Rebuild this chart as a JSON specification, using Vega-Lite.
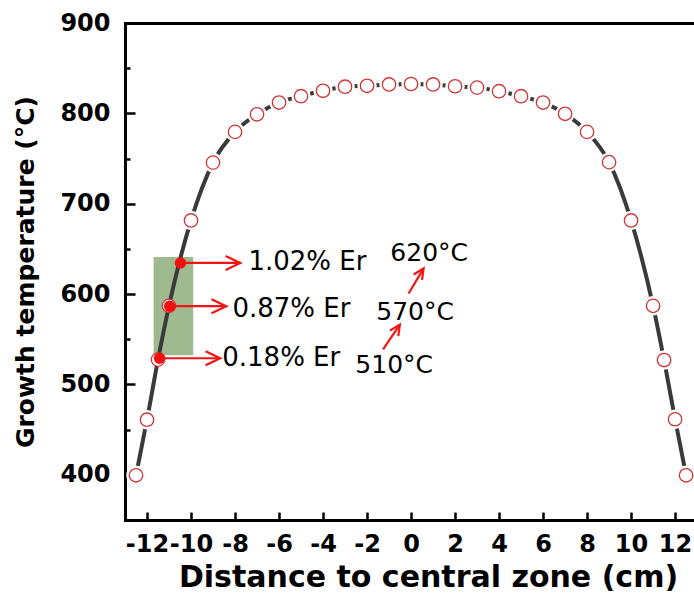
{
  "$schema": "https://vega.github.io/schema/vega-lite/v6.json",
  "width": 569,
  "height": 497,
  "autosize": {"type": "none"},
  "padding": {"left": 125, "top": 23, "right": 0, "bottom": 77},
  "background": "white",
  "config": {"view": {"stroke": null}, "font": "DejaVu Sans"},
  "datasets": {
    "temp": [
      {"x": -12.5, "y": 399.5}, {"x": -12, "y": 461}, {"x": -11.5, "y": 527.5}, {"x": -11, "y": 587},
      {"x": -10, "y": 681.5}, {"x": -9, "y": 745.5}, {"x": -8, "y": 779.5}, {"x": -7, "y": 799},
      {"x": -6, "y": 812}, {"x": -5, "y": 819}, {"x": -4, "y": 825}, {"x": -3, "y": 829.5},
      {"x": -2, "y": 830.5}, {"x": -1, "y": 832}, {"x": 0, "y": 832.5}, {"x": 1, "y": 832},
      {"x": 2, "y": 830}, {"x": 3, "y": 828.5}, {"x": 4, "y": 824.5}, {"x": 5, "y": 819},
      {"x": 6, "y": 812}, {"x": 7, "y": 799.5}, {"x": 8, "y": 779.5}, {"x": 9, "y": 746},
      {"x": 10, "y": 681.5}, {"x": 11, "y": 587}, {"x": 11.5, "y": 527}, {"x": 12, "y": 461.5},
      {"x": 12.5, "y": 399.5}
    ],
    "er": [
      {"x": -10.48, "y": 634.5, "tip": -7.76, "label": "1.02% Er", "lx": -7.39, "ly": 635.3},
      {"x": -10.97, "y": 586.6, "tip": -8.4, "label": "0.87% Er", "lx": -8.12, "ly": 584},
      {"x": -11.43, "y": 529, "tip": -8.67, "label": "0.18% Er", "lx": -8.58, "ly": 529}
    ],
    "zone": [{"x": -11.7, "x2": -9.9, "y": 641, "y2": 532.4}],
    "heat": [
      {"x": -1.27, "y": 538.7, "x2": -0.51, "y2": 566.3},
      {"x": -0.11, "y": 600.7, "x2": 0.57, "y2": 628.4}
    ],
    "temps": [
      {"label": "620°C", "x": -0.94, "y": 645},
      {"label": "570°C", "x": -1.58, "y": 580},
      {"label": "510°C", "x": -2.53, "y": 521}
    ]
  },
  "resolve": {"axis": {"x": "independent", "y": "independent"}},
  "layer": [
    {
      "data": {"name": "zone"},
      "mark": {"type": "rect", "color": "#9fba8f"},
      "encoding": {
        "x": {"field": "x", "type": "quantitative", "scale": {"domain": [-13, 12.86], "nice": false, "zero": false},
          "axis": {"orient": "bottom", "values": [-12, -10, -8, -6, -4, -2, 0, 2, 4, 6, 8, 10, 12],
            "labelExpr": "'' + datum.value",
            "title": "Distance to central zone (cm)", "grid": false, "ticks": false, "domain": true,
            "domainColor": "black", "domainWidth": 3, "domainCap": "square",
            "labelFont": "DejaVu Sans", "labelFontWeight": "bold", "labelFontSize": 24, "labelColor": "black",
            "labelPadding": 12, "labelFlush": false, "labelOverlap": false, "labelBound": false, "labelBaseline": "top",
            "titleFont": "DejaVu Sans", "titleFontWeight": "bold", "titleFontSize": 30, "titleColor": "black",
            "titleX": 303, "titleY": 66, "titleAlign": "center", "titleBaseline": "alphabetic"}},
        "x2": {"field": "x2"},
        "y": {"field": "y", "type": "quantitative", "scale": {"domain": [350, 900], "nice": false, "zero": false},
          "axis": {"orient": "left", "values": [400, 500, 600, 700, 800, 900],
            "title": "Growth temperature (°C)", "grid": false, "ticks": false, "domain": true,
            "domainColor": "black", "domainWidth": 3, "domainCap": "square",
            "labelFont": "DejaVu Sans", "labelFontWeight": "bold", "labelFontSize": 24, "labelColor": "black",
            "labelPadding": 15, "labelFlush": false, "labelOverlap": false, "labelBound": false,
            "titleFont": "DejaVu Sans", "titleFontWeight": "bold", "titleFontSize": 25, "titleColor": "black",
            "titleAngle": -90, "titleX": -92, "titleY": 248.5, "titleAlign": "center", "titleBaseline": "alphabetic"}},
        "y2": {"field": "y2"}
      }
    },
    {
      "data": {"name": "temp"},
      "mark": {"type": "line", "color": "#3a3a3a", "strokeWidth": 4, "interpolate": "monotone"},
      "encoding": {
        "x": {"field": "x", "type": "quantitative", "scale": {"domain": [-13, 12.86], "nice": false, "zero": false},
          "axis": {"orient": "bottom", "values": [-12, -10, -8, -6, -4, -2, 0, 2, 4, 6, 8, 10, 12],
            "labels": false, "domain": false, "grid": false, "ticks": true, "tickSize": -8, "tickWidth": 2.5,
            "tickColor": "black", "title": null}},
        "y": {"field": "y", "type": "quantitative", "scale": {"domain": [350, 900], "nice": false, "zero": false},
          "axis": {"orient": "left", "values": [400, 500, 600, 700, 800, 900],
            "labels": false, "domain": false, "grid": false, "ticks": true, "tickSize": -10, "tickWidth": 2.5,
            "tickColor": "black", "title": null}}
      }
    },
    {
      "data": {"name": "temp"},
      "transform": [{"filter": "datum.x != -11 && datum.x != -11.5"}],
      "mark": {"type": "point", "shape": "circle", "filled": true, "color": "white", "size": 380, "opacity": 1},
      "encoding": {
        "x": {"field": "x", "type": "quantitative", "scale": {"domain": [-13, 12.86], "nice": false, "zero": false},
          "axis": {"orient": "top", "labels": false, "ticks": false, "grid": false, "domain": true,
            "domainWidth": 3, "domainColor": "black", "domainCap": "square", "title": null}},
        "y": {"field": "y", "type": "quantitative", "scale": {"domain": [350, 900], "nice": false, "zero": false},
          "axis": {"orient": "left", "values": [450, 550, 650, 750, 850],
            "labels": false, "domain": false, "grid": false, "ticks": true, "tickSize": -5, "tickWidth": 2.5,
            "tickColor": "black", "title": null}}
      }
    },
    {
      "data": {"name": "temp"},
      "mark": {"type": "point", "shape": "circle", "fill": "white", "stroke": "#d03535", "strokeWidth": 1.3, "size": 180, "opacity": 1},
      "encoding": {
        "x": {"field": "x", "type": "quantitative", "axis": null},
        "y": {"field": "y", "type": "quantitative", "axis": null}
      }
    },
    {
      "data": {"name": "er"},
      "mark": {"type": "rule", "color": "#f01515", "strokeWidth": 2.2},
      "encoding": {
        "x": {"field": "x", "type": "quantitative", "axis": null},
        "x2": {"field": "tip"},
        "y": {"field": "y", "type": "quantitative", "axis": null}
      }
    },
    {
      "data": {"name": "er"},
      "mark": {"type": "point", "shape": "M-2.1,-1L0,0L-2.1,1", "filled": false, "stroke": "#f01515", "strokeWidth": 2.2, "size": 196, "opacity": 1},
      "encoding": {
        "x": {"field": "tip", "type": "quantitative", "axis": null},
        "y": {"field": "y", "type": "quantitative", "axis": null}
      }
    },
    {
      "data": {"name": "er"},
      "mark": {"type": "point", "shape": "circle", "filled": true, "color": "#f01010", "size": 130, "opacity": 1},
      "encoding": {
        "x": {"field": "x", "type": "quantitative", "axis": null},
        "y": {"field": "y", "type": "quantitative", "axis": null}
      }
    },
    {
      "data": {"name": "er"},
      "mark": {"type": "text", "align": "left", "baseline": "middle", "font": "DejaVu Sans", "fontSize": 26, "color": "black"},
      "encoding": {
        "x": {"field": "lx", "type": "quantitative", "axis": null},
        "y": {"field": "ly", "type": "quantitative", "axis": null},
        "text": {"field": "label"}
      }
    },
    {
      "data": {"name": "heat"},
      "mark": {"type": "rule", "color": "#f01515", "strokeWidth": 2.2},
      "encoding": {
        "x": {"field": "x", "type": "quantitative", "axis": null},
        "x2": {"field": "x2"},
        "y": {"field": "y", "type": "quantitative", "axis": null},
        "y2": {"field": "y2"}
      }
    },
    {
      "data": {"name": "heat"},
      "mark": {"type": "point", "shape": "M-2.1,-1L0,0L-2.1,1", "filled": false, "stroke": "#f01515", "strokeWidth": 2.2, "size": 100, "angle": -57, "opacity": 1},
      "encoding": {
        "x": {"field": "x2", "type": "quantitative", "axis": null},
        "y": {"field": "y2", "type": "quantitative", "axis": null}
      }
    },
    {
      "data": {"name": "temps"},
      "mark": {"type": "text", "align": "left", "baseline": "middle", "font": "DejaVu Sans", "fontSize": 25, "color": "black"},
      "encoding": {
        "x": {"field": "x", "type": "quantitative", "axis": null},
        "y": {"field": "y", "type": "quantitative", "axis": null},
        "text": {"field": "label"}
      }
    }
  ]
}
